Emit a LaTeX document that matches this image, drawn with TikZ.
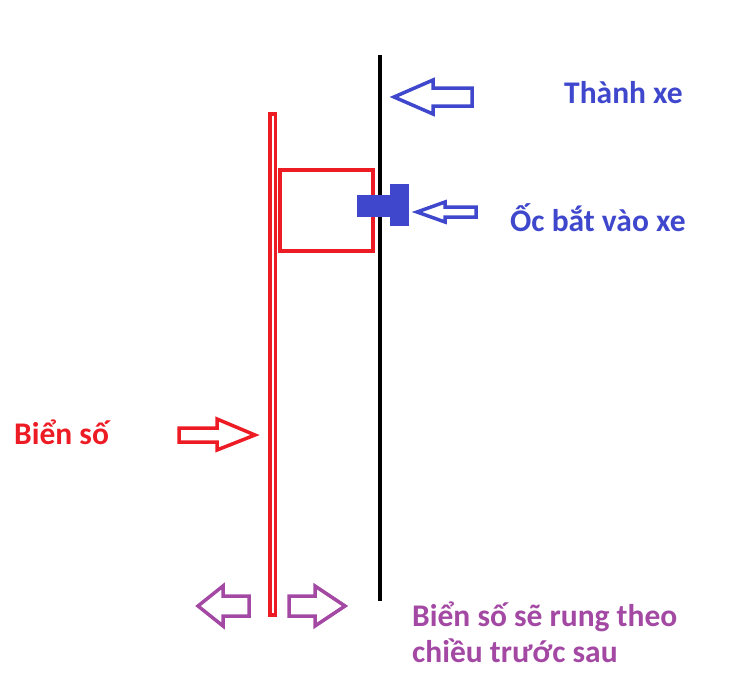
\documentclass[tikz,border=0pt]{standalone}
\usepackage{fontspec}
\setmainfont{Carlito}
\usepackage{tikz}
\tikzset{>=latex}
\definecolor{paintblue}{HTML}{3F48CC}
\definecolor{paintred}{HTML}{ED1C24}
\definecolor{paintpurple}{HTML}{A349A4}
\tikzset{
  outline/.style={line width=3.5pt, line join=miter},
  label/.style={font=\bfseries\fontsize{31.5}{36}\selectfont, inner sep=0pt, anchor=base west}
}

\begin{document}
\begin{tikzpicture}[x=1pt, y=-1pt]
            \useasboundingbox (0, 0) rectangle (750, 696);
            % thanh xe
            \draw[line width=4pt] (379.5, 55) -- (379.5, 601);
            % bien so va ke
            \draw[outline, paintred] (270, 114) rectangle (275.5, 615);
            \draw[outline, paintred] (280, 170) rectangle (373, 251);
            % oc
            \fill[paintblue] (390, 184) rectangle (409, 226);
            \fill[paintblue] (357, 195) rectangle (390, 217);
            % mui ten
            \draw[outline, paintblue] (394, 97) -- (433, 80) -- (433, 88) -- (472, 88) -- (472, 106) -- (433, 106) -- (433, 114) -- cycle;
            \draw[outline, paintblue] (417, 212) -- (445, 202) -- (445, 207) -- (476, 207) -- (476, 217) -- (445, 217) -- (445, 222) -- cycle;
            \draw[outline, paintred] (255, 435) -- (217, 419) -- (217, 428) -- (179, 428) -- (179, 442) -- (217, 442) -- (217, 450) -- cycle;
            \draw[outline, paintpurple] (198, 606) -- (223, 586) -- (223, 596) -- (249, 596) -- (249, 616) -- (223, 616) -- (223, 626) -- cycle;
            \draw[outline, paintpurple] (345, 606) -- (315, 586) -- (315, 596) -- (289, 596) -- (289, 616) -- (315, 616) -- (315, 626) -- cycle;
            % chu
            \node[label, paintblue] (thanhxe) at (564, 103) {Thành xe};
            \node[label, paintblue] (oc) at (510, 231) {Ốc bắt vào xe};
            \node[label, paintred] (bienso) at (14, 444) {Biển số};
            \node[label, paintpurple] (rung) at (412, 626) {Biển số sẽ rung theo};
            \node[label, paintpurple] (chieu) at (412, 662) {chiều trước sau};
        \end{tikzpicture}
\end{document}
